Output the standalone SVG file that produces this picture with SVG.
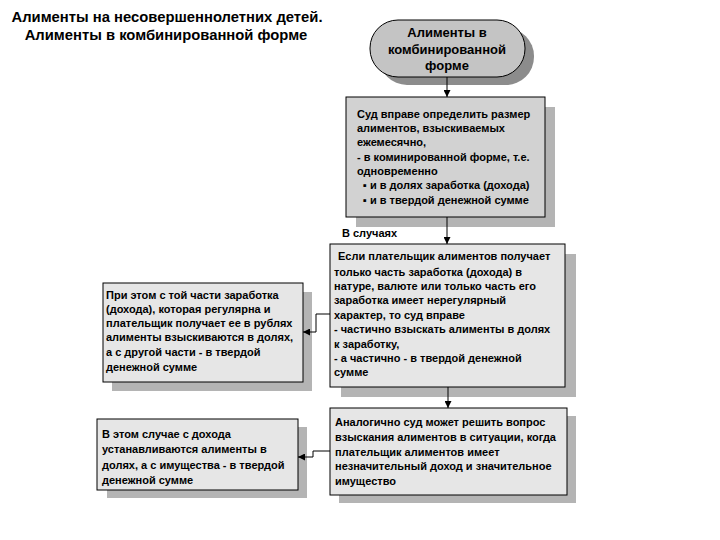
<svg xmlns="http://www.w3.org/2000/svg" width="720" height="540" viewBox="0 0 720 540">
<defs>
<style>
text{font-family:"Liberation Sans",Arial,sans-serif;font-weight:bold;fill:#000}
.t{font-size:14.8px}
.p{font-size:13px}
.b{font-size:11px}
.box{stroke:#000;stroke-width:1}
.sh{fill:#b4b4b4}
.dk{fill:#d2d2d2}
.lt{fill:#e6e6e6}
.c{fill:none;stroke:#000;stroke-width:1}
</style>
<marker id="ah" viewBox="0 0 10 10" refX="10" refY="5" markerWidth="7" markerHeight="7" markerUnits="userSpaceOnUse" orient="auto">
<path d="M0,0 L10,5 L0,10 z" fill="#000"/>
</marker>
</defs>
<rect width="720" height="540" fill="#fff"/>
<g id="title">
<text class="t" x="167" y="22" text-anchor="middle">Алименты на несовершеннолетних детей.</text>
<text class="t" x="166" y="40" text-anchor="middle">Алименты в комбинированной форме</text>
</g>
<g id="n1">
<rect x="379" y="28" width="155" height="57" rx="28" fill="#8c8c8c"/>
<rect class="box" x="370" y="20" width="155" height="57" rx="28" fill="#c4c4c4"/>
<text class="p" x="447" y="37" text-anchor="middle">Алименты в</text>
<text class="p" x="447" y="54" text-anchor="middle">комбинированной</text>
<text class="p" x="447" y="70" text-anchor="middle">форме</text>
</g>
<g id="n2">
<rect class="sh" x="356" y="107" width="199" height="120"/>
<rect class="box dk" x="346" y="97" width="199" height="120"/>
<text class="b" x="357" y="118">Суд вправе определить размер</text>
<text class="b" x="357" y="132">алиментов, взыскиваемых</text>
<text class="b" x="357" y="146">ежемесячно,</text>
<text class="b" x="357" y="161">- в коминированной форме, т.е.</text>
<text class="b" x="357" y="175">одновременно</text>
<text class="b" x="363" y="189">▪ и в долях заработка (дохода)</text>
<text class="b" x="363" y="204">▪ и в твердой денежной сумме</text>
</g>
<g id="n3">
<rect class="sh" x="341" y="254" width="235" height="143"/>
<rect class="box lt" x="330" y="244" width="235" height="143"/>
<text class="b" x="338" y="260">Если плательщик алиментов получает</text>
<text class="b" x="334" y="276">только часть заработка (дохода) в</text>
<text class="b" x="334" y="290">натуре, валюте или только часть его</text>
<text class="b" x="334" y="304">заработка имеет нерегулярный</text>
<text class="b" x="334" y="319">характер, то суд вправе</text>
<text class="b" x="334" y="333">- частично взыскать алименты в долях</text>
<text class="b" x="334" y="348">к заработку,</text>
<text class="b" x="334" y="362">- а частично - в твердой денежной</text>
<text class="b" x="334" y="376">сумме</text>
</g>
<g id="n4">
<rect class="sh" x="112" y="292" width="200" height="99"/>
<rect class="box lt" x="103" y="283" width="200" height="99"/>
<text class="b" x="106" y="299">При этом с той части заработка</text>
<text class="b" x="106" y="313">(дохода), которая регулярна и</text>
<text class="b" x="106" y="327">плательщик получает ее в рублях</text>
<text class="b" x="106" y="341">алименты взыскиваются в долях,</text>
<text class="b" x="106" y="356">а с другой части - в твердой</text>
<text class="b" x="106" y="371">денежной сумме</text>
</g>
<g id="n5">
<rect class="sh" x="339" y="416" width="237" height="87"/>
<rect class="box lt" x="330" y="408" width="237" height="87"/>
<text class="b" x="335" y="426">Аналогично суд может решить вопрос</text>
<text class="b" x="335" y="441">взыскания алиментов в ситуации, когда</text>
<text class="b" x="335" y="456">плательщик алиментов имеет</text>
<text class="b" x="335" y="470">незначительный доход и значительное</text>
<text class="b" x="335" y="485">имущество</text>
</g>
<g id="n6">
<rect class="sh" x="107" y="427" width="200" height="71"/>
<rect class="box lt" x="97" y="419" width="201" height="71"/>
<text class="b" x="102" y="438">В этом случае с дохода</text>
<text class="b" x="102" y="453">устанавливаются алименты в</text>
<text class="b" x="102" y="469">долях, а с имущества - в твердой</text>
<text class="b" x="102" y="484">денежной сумме</text>
</g>
<g id="connectors">
<path class="c" d="M447,77 V97" marker-end="url(#ah)"/>
<path class="c" d="M447,217 V244" marker-end="url(#ah)"/>
<path class="c" d="M330,314 H316 V332 H303" marker-end="url(#ah)"/>
<path class="c" d="M448,387 V408" marker-end="url(#ah)"/>
<path class="c" d="M330,451 H313 V457 H298" marker-end="url(#ah)"/>
<text class="b" x="342" y="237">В случаях</text>
</g>
</svg>
